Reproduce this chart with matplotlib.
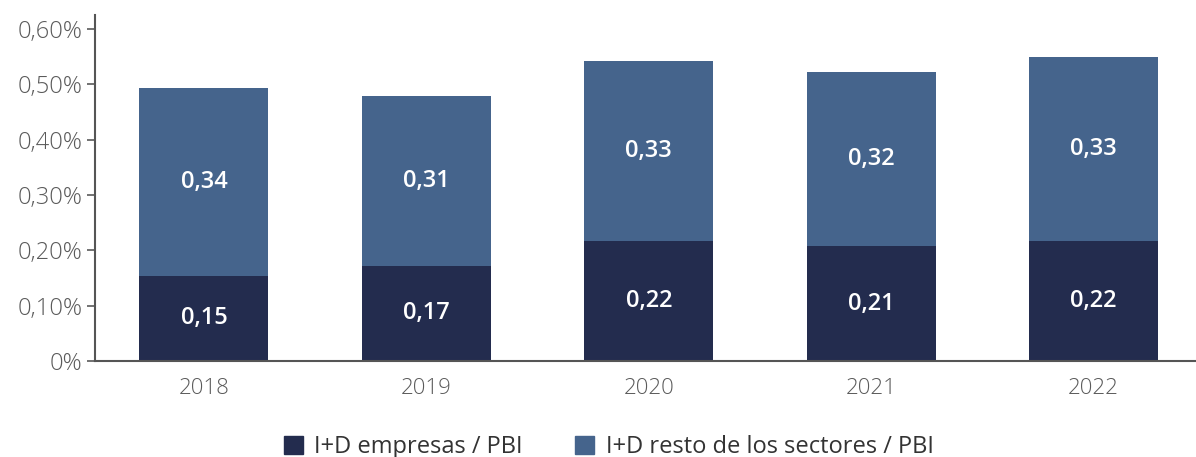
import numpy as np
import matplotlib.pyplot as plt
from matplotlib.patches import Patch

years = ['2018', '2019', '2020', '2021', '2022']
empresas = [0.154, 0.172, 0.216, 0.207, 0.217]
resto = [0.339, 0.306, 0.326, 0.316, 0.332]
yticks = [0, 0.1, 0.2, 0.3, 0.4, 0.5, 0.6]
ytick_labels = ['0%', '0,10%', '0,20%', '0,30%', '0,40%', '0,50%', '0,60%']

c_emp = '#232c4e'
c_resto = '#45648c'
grey = '#555555'

plt.rcParams['font.family'] = ['Open Sans', 'DejaVu Sans']

fig = plt.figure(figsize=(11.96, 4.57), dpi=100)
ax = fig.add_axes([0.0794, 0.21, 0.9206, 0.757])

x = np.arange(len(years))
w = 0.58
ax.bar(x, empresas, w, color=c_emp)
ax.bar(x, resto, w, bottom=empresas, color=c_resto)

for i in range(len(years)):
    ax.text(x[i], empresas[i] / 2, f'{empresas[i]:.2f}'.replace('.', ','),
            ha='center', va='center', color='white', fontsize=17, fontweight='semibold')
    ax.text(x[i], empresas[i] + resto[i] / 2, f'{resto[i]:.2f}'.replace('.', ','),
            ha='center', va='center', color='white', fontsize=17, fontweight='semibold')

ax.set_xlim(-0.49, 4.46)
ax.set_ylim(0, 0.625)
ax.set_yticks(yticks)
ax.set_yticklabels(ytick_labels)
ax.set_xticks(x)
ax.set_xticklabels(years)

for s in ['top', 'right']:
    ax.spines[s].set_visible(False)
for s in ['left', 'bottom']:
    ax.spines[s].set_color(grey)
    ax.spines[s].set_linewidth(1.5)

ax.tick_params(axis='y', colors='#5a5a5a', labelsize=17, length=6, width=1.2, pad=3)
ax.tick_params(axis='x', colors='#5a5a5a', labelsize=16, length=0, pad=12)
for lab in ax.get_yticklabels() + ax.get_xticklabels():
    lab.set_fontweight('light')

handles = [Patch(color=c_emp, label='I+D empresas / PBI'),
           Patch(color=c_resto, label='I+D resto de los sectores / PBI')]
fig.legend(handles=handles, loc='center', bbox_to_anchor=(0.509, 0.022), ncol=2,
           frameon=False, fontsize=17, handlelength=0.8, handleheight=0.8,
           handletextpad=0.5, columnspacing=2.2, labelcolor='#333333')

fig.savefig('out.png', dpi=100)
